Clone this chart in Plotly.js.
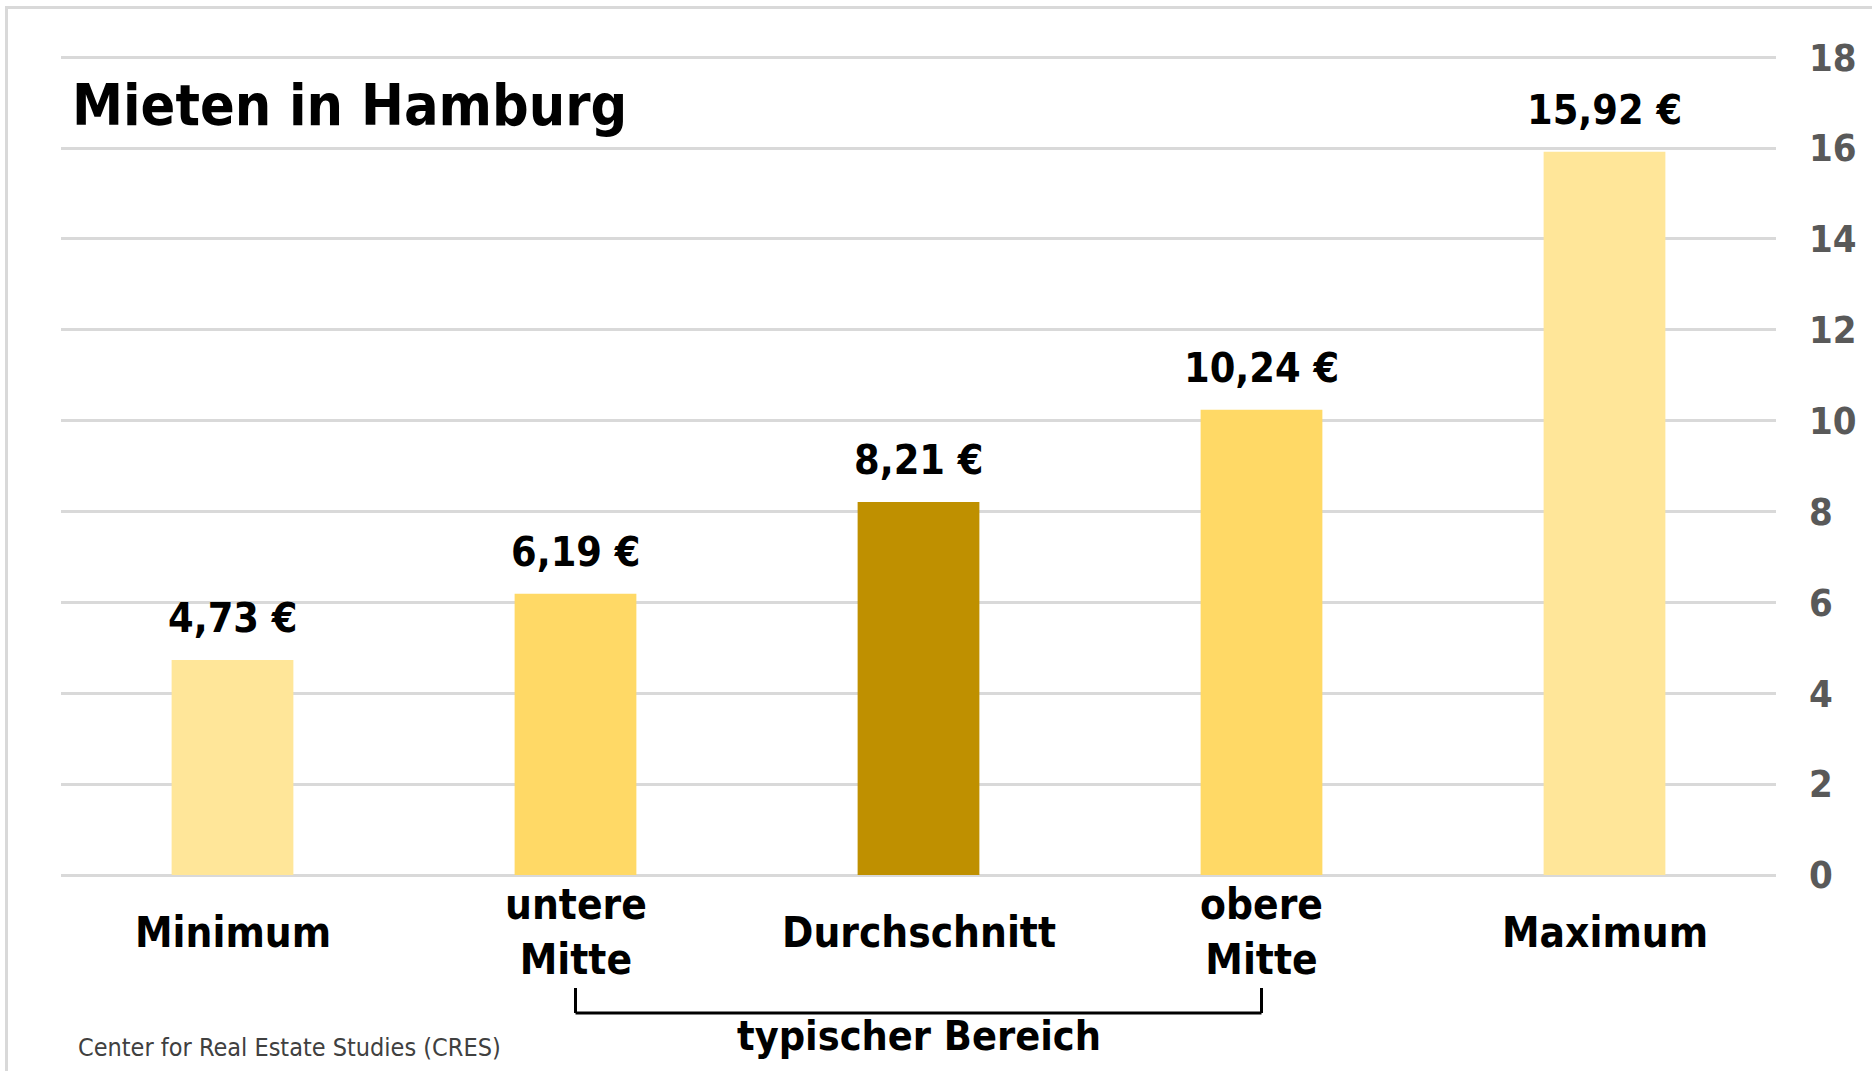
<!DOCTYPE html>
<html>
<head>
<meta charset="utf-8">
<script src="https://cdn.plot.ly/plotly-3.0.1.min.js"></script>
<style>
  html, body { margin: 0; padding: 0; background: #ffffff; }
  #chart { width: 1872px; height: 1071px; position: absolute; left: 0; top: 0; }
  #frame { position: absolute; left: 5px; top: 6px; width: 1900px; height: 1100px;
           border-top: 3px solid #d9d9d9; border-left: 3px solid #d9d9d9; pointer-events: none; }
</style>
</head>
<body>
<div id="chart"></div>
<div id="frame"></div>
<script>
// ---- data ----
const categories = ["Minimum", "untere Mitte", "Durchschnitt", "obere Mitte", "Maximum"];
const categoryLabels = ["Minimum", "untere<br>Mitte", "Durchschnitt", "obere<br>Mitte", "Maximum"];
const rents = [4.73, 6.19, 8.21, 10.24, 15.92];
const valueLabels = ["4,73 €", "6,19 €", "8,21 €", "10,24 €", "15,92 €"];
const barColors = ["#FFE699", "#FFD966", "#BF9000", "#FFD966", "#FFE699"];
const yTicks = [0, 2, 4, 6, 8, 10, 12, 14, 16, 18];
const titleText = "Mieten in Hamburg";
const sourceText = "Center for Real Estate Studies (CRES)";
const rangeText = "typischer Bereich";
const rangeFrom = 1, rangeTo = 3; // category indices spanned by the bracket

const FONT = "DejaVu Sans Condensed, DejaVu Sans, Verdana, sans-serif";

// plot-area geometry (pixels)
const PLOT_TOP = 55, PLOT_BOTTOM = 875, PLOT_H = PLOT_BOTTOM - PLOT_TOP;
const py = px => (PLOT_BOTTOM - px) / PLOT_H; // pixel row -> paper y

const trace = {
  type: "bar",
  x: categories,
  y: rents,
  marker: { color: barColors, line: { width: 0 } },
  hoverinfo: "skip"
};

const valueAnnotations = categories.map((c, i) => ({
  x: c, y: rents[i], xref: "x", yref: "y",
  text: "<b>" + valueLabels[i] + "</b>",
  showarrow: false, yanchor: "bottom", yshift: 16,
  font: { family: FONT, size: 41, color: "#000000" }
}));

const categoryAnnotations = categories.map((c, i) => ({
  x: c, xref: "x", y: py(932), yref: "paper",
  text: "<b>" + categoryLabels[i] + "</b>",
  showarrow: false, xanchor: "center", yanchor: "middle",
  font: { family: FONT, size: 42, color: "#000000" }
}));

const layout = {
  width: 1872, height: 1071,
  margin: { l: 61, r: 96, t: PLOT_TOP, b: 1071 - PLOT_BOTTOM },
  paper_bgcolor: "rgba(0,0,0,0)",
  plot_bgcolor: "#ffffff",
  showlegend: false,
  bargap: 0.645,
  font: { family: FONT, color: "#000000" },
  title: {
    text: "<b>" + titleText + "</b>",
    font: { family: FONT, size: 57, color: "#000000" },
    x: 72 / 1872, xanchor: "left", xref: "container",
    y: 1 - 105 / 1071, yanchor: "middle", yref: "container"
  },
  xaxis: {
    type: "category",
    showticklabels: false,
    showgrid: false, zeroline: false, showline: false,
    ticks: "",
    fixedrange: true
  },
  yaxis: {
    side: "right",
    range: [0, 18.05],
    tickmode: "array",
    tickvals: yTicks,
    ticktext: yTicks.map(v => "<b>" + v + "</b>"),
    tickfont: { family: FONT, size: 38, color: "#595959" },
    showgrid: true, gridcolor: "#d9d9d9", gridwidth: 3,
    zeroline: true, zerolinecolor: "#d9d9d9", zerolinewidth: 3,
    showline: false, ticks: "", ticklabelstandoff: 32,
    fixedrange: true
  },
  annotations: valueAnnotations.concat(categoryAnnotations, [
    {
      xref: "paper", yref: "paper", x: (76 - 61) / 1715, y: py(1047),
      xanchor: "left", yanchor: "middle", showarrow: false,
      text: sourceText,
      font: { family: FONT, size: 25, color: "#404040" }
    },
    {
      xref: "x", yref: "paper", x: categories[2], y: py(1036),
      xanchor: "center", yanchor: "middle", showarrow: false,
      text: "<b>" + rangeText + "</b>",
      font: { family: FONT, size: 41, color: "#000000" }
    }
  ]),
  shapes: [
    { type: "line", xref: "x", yref: "paper", x0: rangeFrom, x1: rangeFrom,
      y0: py(988), y1: py(1013), line: { color: "#000000", width: 3 } },
    { type: "line", xref: "x", yref: "paper", x0: rangeFrom, x1: rangeTo,
      y0: py(1013), y1: py(1013), line: { color: "#000000", width: 3 } },
    { type: "line", xref: "x", yref: "paper", x0: rangeTo, x1: rangeTo,
      y0: py(988), y1: py(1013), line: { color: "#000000", width: 3 } }
  ]
};

Plotly.newPlot("chart", [trace], layout, { displayModeBar: false, staticPlot: true });
</script>
</body>
</html>
